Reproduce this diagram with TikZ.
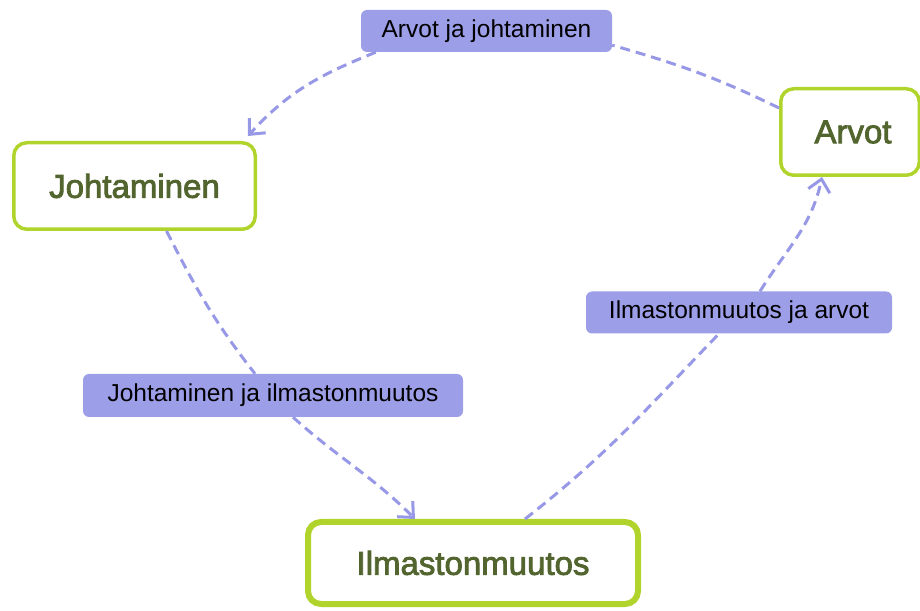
\documentclass[tikz,border=0pt]{standalone}
\usepackage{fontspec}
\setmainfont{Liberation Sans}
\newfontfamily\nodefont[FakeBold=2.5]{Liberation Sans}
\usetikzlibrary{arrows.meta}
\definecolor{boxgreen}{RGB}{176,212,44}
\definecolor{txtgreen}{RGB}{82,101,46}
\definecolor{lav}{RGB}{157,158,232}
\definecolor{lavline}{RGB}{152,153,230}
\tikzset{
  topic/.style={draw=boxgreen, line width=3.5pt, rounded corners=13pt, fill=white,
    text=txtgreen, inner sep=0pt, font=\nodefont\fontsize{33}{40}\selectfont},
  lbl/.style={fill=lav, rounded corners=6pt, inner sep=0pt, text=black,
    font=\fontsize{24.5}{30}\selectfont},
  conn/.style={draw=lavline, line width=3pt, dash pattern=on 10pt off 6pt},
  tip/.style={-{Straight Barb[length=12pt,width=22pt,line width=3pt]}}
}
\begin{document}
\begin{tikzpicture}[x=1pt,y=1pt]
\useasboundingbox (0,0) rectangle (920,610);
\node[topic, minimum width=241.5pt, minimum height=86.5pt] (joht) at (134.5,424) {Johtaminen};
\node[topic, minimum width=138.5pt, minimum height=86.5pt] (arvot) at (850,478) {\hspace*{6pt}Arvot};
\node[topic, line width=6pt, minimum width=330pt, minimum height=82pt] (ilm) at (473,47) {Ilmastonmuutos};
\node[lbl, minimum width=251pt, minimum height=42pt] (l1) at (486.5,579) {Arvot ja johtaminen};
\node[lbl, minimum width=306pt, minimum height=42pt] (l2) at (739,297.5) {Ilmastonmuutos ja arvot};
\node[lbl, minimum width=380pt, minimum height=43pt] (l3) at (273,214.5) {Johtaminen ja ilmastonmuutos};
% Arvot -> Johtaminen
\draw[conn] ([yshift=24pt]arvot.west) to[out=154,in=-16] ([yshift=7pt]l1.south east);
\draw[conn,tip] ([xshift=15pt]l1.south west) to[out=202,in=48] ([shift={(-9pt,5pt)}]joht.north east);
% Johtaminen -> Ilmastonmuutos
\draw[conn] ([xshift=32pt]joht.south) to[out=-63,in=128] ([xshift=-18pt]l3.north);
\draw[conn,tip] ([xshift=20pt]l3.south) to[out=-42,in=135] ([xshift=-58pt]ilm.north);
% Ilmastonmuutos -> Arvot
\draw[conn] ([xshift=52pt]ilm.north) to[out=38,in=226] ([xshift=-20pt]l2.south);
\draw[conn,tip] ([xshift=21pt]l2.north) to[out=58,in=258] ([xshift=-28pt]arvot.south);
\end{tikzpicture}
\end{document}
